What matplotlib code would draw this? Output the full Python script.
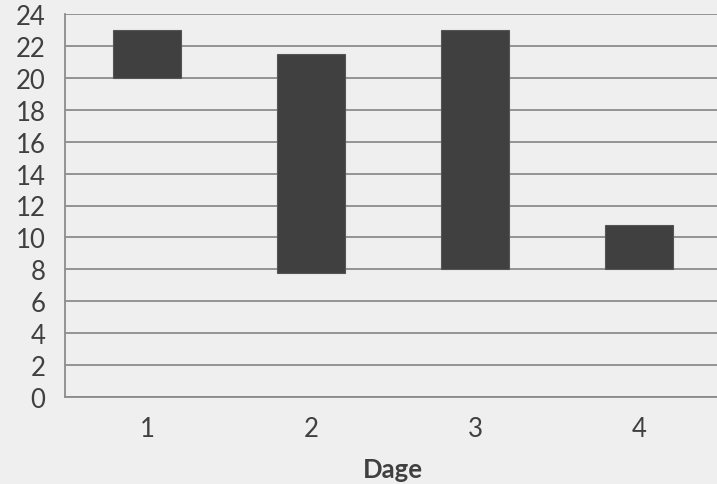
import matplotlib
matplotlib.use("Agg")
import matplotlib.pyplot as plt

categories = ["1", "2", "3", "4"]
low_values = [20.0, 7.8, 8.0, 8.0]
high_values = [23.0, 21.5, 23.0, 10.8]
y_ticks = [0, 2, 4, 6, 8, 10, 12, 14, 16, 18, 20, 22, 24]
x_title = "Dage"

bg = "#efefef"
text_color = "#404040"
grid_color = "#8c8c8c"

plt.rcParams["font.family"] = ["Lato", "DejaVu Sans"]

fig = plt.figure(figsize=(7.17, 4.85), dpi=100, facecolor=bg)
ax = fig.add_axes([65 / 717, 87 / 485, 656 / 717, 383 / 485], facecolor=bg)

x = list(range(len(categories)))
heights = [h - l for h, l in zip(high_values, low_values)]
ax.bar(x, heights, bottom=low_values, width=0.41, color="#404040",
       edgecolor="#555555", linewidth=0.8, zorder=3)

ax.set_xlim(-0.5, len(categories) - 0.5)
ax.set_ylim(0, 24)
ax.set_yticks(y_ticks)
ax.set_yticklabels([str(t) for t in y_ticks])
ax.set_xticks(x)
ax.set_xticklabels(categories)

ax.yaxis.grid(True, color=grid_color, linewidth=1.3, zorder=0)
ax.set_axisbelow(True)
for s in ["top", "right"]:
    ax.spines[s].set_visible(False)
for s in ["left", "bottom"]:
    ax.spines[s].set_color(grid_color)
    ax.spines[s].set_linewidth(1.3)

ax.tick_params(axis="both", length=0, labelsize=18.5, colors=text_color)
ax.tick_params(axis="y", pad=14)
ax.tick_params(axis="x", pad=14)
for lab in ax.get_yticklabels():
    lab.set_horizontalalignment("right")

ax.set_xlabel(x_title, fontsize=18.5, fontweight="bold", color=text_color, labelpad=11)

fig.savefig("out.png", dpi=100, facecolor=bg)
